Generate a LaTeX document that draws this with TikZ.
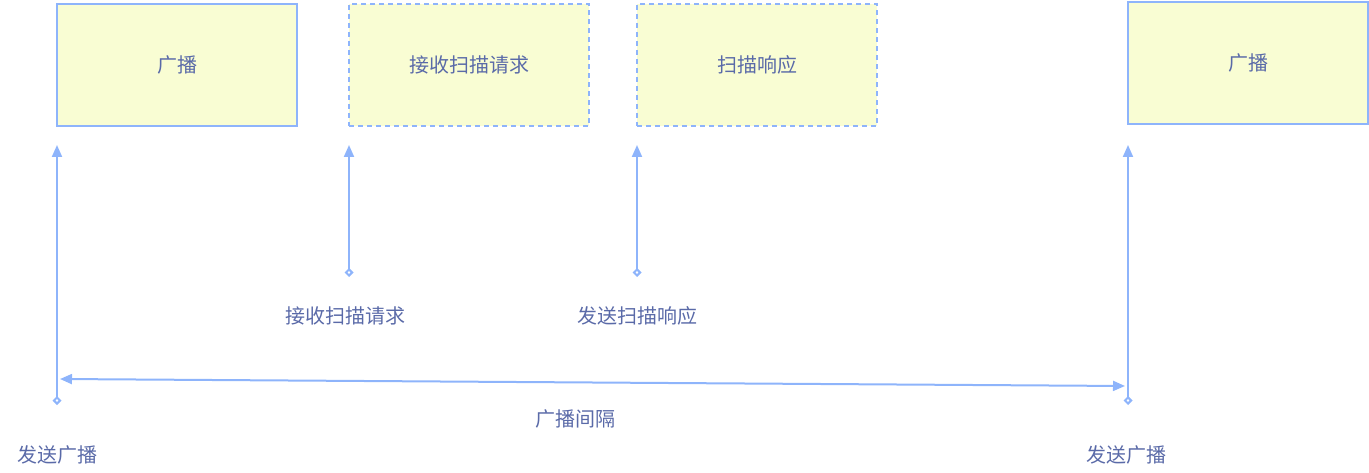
\documentclass[tikz,border=0pt]{standalone}
\usepackage{fontspec}
\newfontfamily\cjk{Noto Sans CJK SC}
\usetikzlibrary{arrows.meta}
\definecolor{ln}{HTML}{8EB4FB}
\definecolor{bx}{HTML}{F9FDD3}
\definecolor{tx}{HTML}{5A6AA8}
\tikzset{
 box/.style={draw=ln,fill=bx,line width=2pt,minimum width=240pt,minimum height=122pt,inner sep=0pt,text=tx,font=\cjk\fontsize{20}{24}\selectfont},
 dbox/.style={box,dash pattern=on 5pt off 4pt},
 lbl/.style={text=tx,font=\cjk\fontsize{20}{24}\selectfont},
 conn/.style={draw=ln,line width=2pt,{Diamond[open,length=9pt,width=9pt]}-{Triangle[length=12pt,width=10pt]}},
 dconn/.style={draw=ln,line width=2pt,{Triangle[length=12pt,width=10pt]}-{Triangle[length=12pt,width=10pt]}}
}
\begin{document}
\begin{tikzpicture}[x=1pt,y=-1pt]
\useasboundingbox (0,0) rectangle (1369,473);
\node[box] (b1) at (177,65) {广播};
\node[dbox] (b2) at (469,65) {接收扫描请求};
\node[dbox] (b3) at (757,65) {扫描响应};
\node[box] (b4) at (1248,63) {广播};
\coordinate (s1) at (57,405); \coordinate (e1) at (57,145);
\coordinate (s2) at (349,277); \coordinate (e2) at (349,145);
\coordinate (s3) at (637,277); \coordinate (e3) at (637,145);
\coordinate (s4) at (1128,405); \coordinate (e4) at (1128,145);
\coordinate (l) at (60,379); \coordinate (r) at (1125,386);
\draw[conn] (s1) -- (e1);
\draw[conn] (s2) -- (e2);
\draw[conn] (s3) -- (e3);
\draw[conn] (s4) -- (e4);
\draw[dconn] (l) -- (r);
\node[lbl] (t1) at (345,316) {接收扫描请求};
\node[lbl] (t2) at (637,316) {发送扫描响应};
\node[lbl] (t3) at (575,419) {广播间隔};
\node[lbl] (t4) at (57,455) {发送广播};
\node[lbl] (t5) at (1126,455) {发送广播};
\end{tikzpicture}
\end{document}
